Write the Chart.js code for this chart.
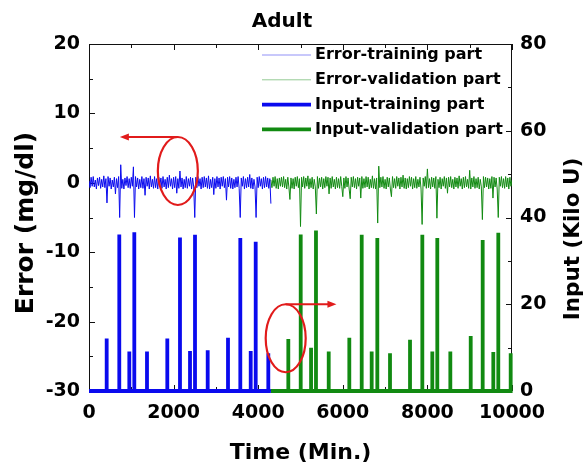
<!DOCTYPE html>
<html>
<head>
<meta charset="utf-8">
<script src="https://cdn.jsdelivr.net/npm/chart.js@4.4.1/dist/chart.umd.min.js"></script>
<style>
  html, body { margin: 0; padding: 0; background: #fff; }
  canvas { display: block; }
</style>
</head>
<body>
<canvas id="adultChart" width="585" height="463"></canvas>
<script>
// error sampled every 25 min, training part 0-4300, validation 4300-10000
const errorStep = 25;
const splitTime = 4300;
const endTime = 10000;

const errorTraining = [
  0.3, -0.7, 0.8, -0.5, 0.9, -0.6, 0.4, -0.9, 0.7, -0.4,
  0.8, -0.8, 0.5, -0.6, 1.0, -0.7, 0.6, -2.9, 0.9, -0.5,
  0.7, -0.9, 0.4, -0.6, 0.8, -1.6, 0.6, -0.7, 0.9, -5.0,
  2.6, -0.8, 0.5, -0.9, 0.7, -0.4, 0.9, -0.7, 0.6, -0.8,
  0.8, -0.5, 2.3, -5.0, 0.9, -0.6, 0.7, -0.9, 0.5, -0.7,
  0.9, -0.8, 0.6, -1.8, 0.8, -0.5, 0.7, -0.9, 1.0, -0.6,
  0.5, -0.8, 0.9, -0.7, 0.6, -0.9, 0.8, -0.4, 0.7, -0.8,
  0.9, -0.6, 0.5, -0.9, 0.8, -0.7, 1.1, -0.5, 0.6, -0.9,
  0.8, -0.7, 0.9, -1.5, 0.6, -0.8, 1.7, -0.6, 0.7, -0.9,
  0.5, -0.7, 0.9, -0.8, 0.6, -0.5, 0.8, -0.9, 0.7, -0.6,
  -5.0, 0.8, -0.7, 0.9, -0.5, 0.6, -0.9, 0.8, -0.7, 0.9,
  -0.6, 0.7, -0.8, 1.0, -0.9, 0.5, -0.7, 0.8, -1.7, 0.6,
  -0.8, 0.9, -0.6, 0.7, -0.9, 0.8, -0.5, 0.9, -0.7, 0.6,
  -2.5, 0.8, -0.6, 0.9, -0.8, 0.7, -0.9, 0.5, -0.7, 0.8,
  -0.6, 0.9, -0.8, -5.0, 0.7, -0.5, 0.9, -0.9, 0.6, -0.7,
  0.8, -0.6, 1.2, -0.8, 0.7, -0.9, 0.5, -0.6, -5.0, 0.8,
  -0.7, 0.9, -0.5, 0.6, -0.9, 0.8, -0.7, 0.9, -0.6, 0.7,
  -0.8, 0.6, -3.0
];
const errorValidation = [
  0.4, -0.7, 0.8, -0.5, 0.9, -0.8, 0.6, -0.9, 0.7, -0.5,
  0.8, -0.6, 0.9, -0.7, 0.5, -0.9, 0.8, -0.6, -2.4, 0.7,
  -0.8, 0.6, -0.9, 0.8, -0.5, 0.9, -0.7, 0.6, -6.3, 0.8,
  -0.6, 0.9, -0.8, 0.7, -0.5, 1.0, -0.9, 0.6, -0.7, 0.8,
  -0.9, 0.5, -0.6, -4.5, 0.9, -0.8, 0.7, -0.6, 0.8, -0.9,
  0.6, -0.7, 0.9, -0.5, 0.8, -1.6, 0.7, -0.8, 0.9, -0.6,
  0.5, -0.9, 0.8, -0.7, 0.6, -0.8, 0.9, -0.5, -2.0, 0.7,
  -0.8, 0.9, -0.6, 0.7, -0.9, -2.3, 0.8, -0.6, 0.9, -0.7,
  0.6, -0.9, 0.8, -0.5, 0.7, -2.2, 0.9, -0.8, 0.6, -0.7,
  0.9, -0.6, 0.8, -0.9, 0.5, -0.7, 1.0, -0.8, 0.6, -0.9,
  0.7, -5.8, 2.4, -0.7, 0.8, -0.6, 0.9, -0.8, 0.5, -0.9,
  0.8, -0.6, 0.7, -0.9, -2.0, 0.9, -0.7, 0.6, -0.8, 0.9,
  -0.5, 0.7, -0.9, 0.8, -0.6, 1.1, -0.8, 0.7, -0.9, 0.6,
  -0.7, 0.9, -0.5, 0.8, -0.9, 0.6, -0.7, 0.9, -0.8, 0.5,
  -0.6, 0.8, -0.9, -6.0, 0.7, -0.5, 0.9, -0.8, 2.0, -0.7,
  0.6, -0.9, 0.8, -0.6, 0.7, -0.8, 0.9, -5.1, 0.5, -0.7,
  0.8, -0.9, 0.6, -0.5, 0.9, -0.8, 0.7, -1.5, 0.8, -0.6,
  0.9, -0.7, 0.5, -0.9, 0.8, -0.6, 0.7, -0.8, 1.0, -0.5,
  0.6, -0.9, 0.8, -0.7, 0.9, -0.6, 0.5, -0.8, 1.8, -0.9,
  0.7, -0.6, 0.9, -0.8, 0.6, -0.7, 0.8, -0.9, 0.5, -0.6,
  -5.3, 0.9, -0.7, 0.8, -0.6, 0.7, -0.9, 0.6, -0.8, 0.9,
  -2.2, 0.8, -0.6, 0.7, -0.9, -5.0, 0.8, -0.5, 0.9, -0.7,
  0.6, -0.8, 0.9, -0.6, 0.7, -0.9, 0.8, -0.5, 0.4
];

// insulin input boluses (Kilo U)
const inputTrainingTimes = [418, 716, 953, 1071, 1371, 1851, 2151, 2388, 2506, 2806, 3286, 3577, 3823, 3941, 4239];
const inputTrainingDoses = [12.1, 36.1, 9.1, 36.6, 9.1, 12.1, 35.4, 9.2, 36.0, 9.4, 12.3, 35.3, 9.2, 34.4, 8.7];
const inputValidationTimes = [4712, 5005, 5250, 5366, 5667, 6154, 6447, 6683, 6816, 7116, 7589, 7880, 8116, 8234, 8542, 9024, 9307, 9558, 9676, 9969];
const inputValidationDoses = [12.0, 36.1, 10.0, 37.0, 9.1, 12.3, 36.0, 9.1, 35.3, 8.7, 11.8, 36.0, 9.1, 35.3, 9.1, 12.7, 34.8, 9.0, 36.5, 8.7];

const timeTicks = [0, 2000, 4000, 6000, 8000, 10000];
const errorTicks = [-30, -20, -10, 0, 10, 20];
const inputTicks = [0, 20, 40, 60, 80];

const FONT = '"DejaVu Sans", sans-serif';
const BLUE = '#0a0aee';
const GREEN = '#118a11';

const errorPoints = (values, start) => values.map((v, i) => ({ x: start + i * errorStep, y: v }));
const spikePoints = (times, doses, start, end) => [
  { x: start, y: 0 },
  ...times.flatMap((t, i) => [{ x: t, y: 0 }, { x: t, y: doses[i] }, { x: t, y: 0 }]),
  { x: end, y: 0 }
];
const setTicks = values => scale => { scale.ticks = values.map(v => ({ value: v })); };

const decorPlugin = {
  id: 'decor',
  beforeDatasetsDraw(chart) {
    const { ctx, chartArea: a, scales: { x, y, y1 } } = chart;
    ctx.save();
    ctx.strokeStyle = '#111';
    ctx.lineWidth = 1;
    ctx.beginPath();
    ctx.rect(a.left + 0.5, a.top + 0.5, a.right - a.left - 1, a.bottom - a.top - 1);
    // inward ticks, major + minor halfway
    timeTicks.forEach(v => {
      [v, v + 1000].forEach((w, k) => {
        if (w > endTime) return;
        const px = Math.round(x.getPixelForValue(w)) + 0.5;
        const len = k === 0 ? 6 : 4;
        ctx.moveTo(px, a.top); ctx.lineTo(px, a.top + len);
        ctx.moveTo(px, a.bottom); ctx.lineTo(px, a.bottom - len);
      });
    });
    errorTicks.forEach(v => {
      [v, v + 5].forEach((w, k) => {
        if (w > 20) return;
        const py = Math.round(y.getPixelForValue(w)) + 0.5;
        ctx.moveTo(a.left, py); ctx.lineTo(a.left + (k === 0 ? 6 : 4), py);
      });
    });
    inputTicks.forEach(v => {
      [v, v + 10].forEach((w, k) => {
        if (w > 80) return;
        const py = Math.round(y1.getPixelForValue(w)) + 0.5;
        ctx.moveTo(a.right, py); ctx.lineTo(a.right - (k === 0 ? 6 : 4), py);
      });
    });
    ctx.stroke();
    ctx.restore();
  },
  afterDraw(chart) {
    const { ctx, scales: { x, y } } = chart;
    ctx.save();

    // legend inside the frame
    ctx.font = 'bold 16px ' + FONT;
    ctx.textBaseline = 'middle';
    chart.data.datasets.forEach((ds, i) => {
      const yy = 55 + i * 24.8;
      ctx.strokeStyle = ds.borderColor;
      ctx.lineWidth = ds.borderWidth;
      ctx.globalAlpha = ds.borderWidth < 2 ? 0.45 : 1;
      ctx.beginPath();
      ctx.moveTo(262, yy);
      ctx.lineTo(311, yy);
      ctx.stroke();
      ctx.globalAlpha = 1;
      ctx.fillStyle = '#000';
      ctx.fillText(ds.label, 315, yy);
    });

    // red call-outs
    ctx.strokeStyle = '#e11b1b';
    ctx.fillStyle = '#e11b1b';
    ctx.lineWidth = 2.2;
    const callout = (cx, cy, ax, dir) => {
      const px = x.getPixelForValue(cx), py = y.getPixelForValue(cy);
      const top = py - 34;
      const tip = x.getPixelForValue(ax);
      ctx.beginPath();
      ctx.ellipse(px, py, 20, 34, 0, 0, Math.PI * 2);
      ctx.stroke();
      ctx.beginPath();
      ctx.moveTo(px, top);
      ctx.lineTo(tip - dir * 6, top);
      ctx.stroke();
      ctx.beginPath();
      ctx.moveTo(tip, top);
      ctx.lineTo(tip - dir * 9, top - 3.5);
      ctx.lineTo(tip - dir * 9, top + 3.5);
      ctx.closePath();
      ctx.fill();
    };
    callout(2100, 1.7, 730, -1);
    callout(4650, -22.4, 5850, 1);

    // titles
    ctx.fillStyle = '#000';
    ctx.textAlign = 'center';
    ctx.font = 'bold 20px ' + FONT;
    ctx.fillText('Adult', 282, 22);
    ctx.font = 'bold 25px ' + FONT;
    ctx.translate(26, 223);
    ctx.rotate(-Math.PI / 2);
    ctx.fillText('Error (mg/dl)', 0, 0);
    ctx.setTransform(1, 0, 0, 1, 0, 0);
    ctx.font = 'bold 21.5px ' + FONT;
    ctx.translate(573, 239);
    ctx.rotate(-Math.PI / 2);
    ctx.fillText('Input (Kilo U)', 0, 0);
    ctx.restore();
  }
};

const tickFont = { family: FONT, size: 19, weight: 'bold' };
const plainLabel = v => String(v);

new Chart(document.getElementById('adultChart'), {
  type: 'line',
  data: {
    datasets: [
      { label: 'Error-training part', data: errorPoints(errorTraining, 0), yAxisID: 'y',
        borderColor: BLUE, borderWidth: 1 },
      { label: 'Error-validation part', data: errorPoints(errorValidation, splitTime), yAxisID: 'y',
        borderColor: GREEN, borderWidth: 1 },
      { label: 'Input-training part', data: spikePoints(inputTrainingTimes, inputTrainingDoses, 0, splitTime),
        yAxisID: 'y1', borderColor: BLUE, borderWidth: 3.8, clip: false },
      { label: 'Input-validation part', data: spikePoints(inputValidationTimes, inputValidationDoses, splitTime, endTime),
        yAxisID: 'y1', borderColor: GREEN, borderWidth: 3.8, clip: false }
    ]
  },
  options: {
    responsive: false,
    animation: false,
    devicePixelRatio: 1,
    layout: { padding: { top: 44 } },
    elements: { point: { radius: 0 }, line: { tension: 0, borderJoinStyle: 'miter' } },
    plugins: { legend: { display: false }, tooltip: { enabled: false } },
    scales: {
      x: {
        type: 'linear', min: 0, max: endTime,
        afterBuildTicks: setTicks(timeTicks),
        afterFit: s => { s.height = 72; },
        grid: { display: false, drawTicks: false },
        border: { display: false },
        ticks: { color: '#000', font: tickFont, padding: 11, maxRotation: 0, autoSkip: false, callback: plainLabel },
        title: { display: true, text: 'Time (Min.)', color: '#000',
          font: { family: FONT, size: 22, weight: 'bold', lineHeight: 0.9 }, padding: { top: 0, bottom: 0 } }
      },
      y: {
        position: 'left', min: -30, max: 20,
        afterBuildTicks: setTicks(errorTicks),
        afterFit: s => { s.width = 89; },
        grid: { display: false, drawTicks: false },
        border: { display: false },
        ticks: { color: '#000', font: tickFont, padding: 9, callback: plainLabel }
      },
      y1: {
        position: 'right', min: 0, max: 80,
        afterBuildTicks: setTicks(inputTicks),
        afterFit: s => { s.width = 73; },
        grid: { display: false, drawTicks: false },
        border: { display: false },
        ticks: { color: '#000', font: tickFont, padding: 8, callback: plainLabel }
      }
    }
  },
  plugins: [decorPlugin]
});
</script>
</body>
</html>
